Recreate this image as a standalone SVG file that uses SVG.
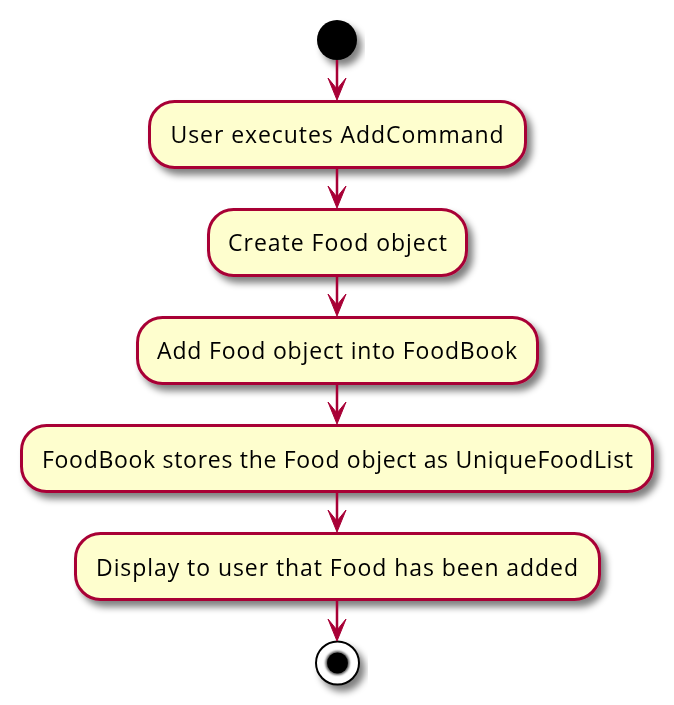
<svg xmlns="http://www.w3.org/2000/svg" width="674" height="705" viewBox="0 0 674 705">
<defs>
<filter id="sh" x="-20%" y="-20%" width="140%" height="160%">
<feGaussianBlur in="SourceAlpha" stdDeviation="3.5" result="b"/>
<feOffset in="b" dx="5" dy="6" result="o"/>
<feComponentTransfer in="o" result="s"><feFuncA type="linear" slope="0.5"/></feComponentTransfer>
<feMerge><feMergeNode in="s"/><feMergeNode in="SourceGraphic"/></feMerge>
</filter>
<filter id="ib" x="-50%" y="-50%" width="200%" height="200%">
<feGaussianBlur stdDeviation="1"/>
</filter>
</defs>
<style>
.box{fill:#FEFECE;stroke:#A80036;stroke-width:3}
.lbl{font-family:"Open Sans","Noto Sans",sans-serif;font-size:23px;fill:#000;text-anchor:middle}
.ln{stroke:#A80036;stroke-width:2.5;fill:none}
.ah{fill:#A80036;stroke:#A80036;stroke-width:1}
</style>
<g id="start" filter="url(#sh)"><circle cx="337" cy="40" r="20" fill="#000"/></g>
<g id="n1" filter="url(#sh)"><rect class="box" x="149.5" y="101.5" width="376" height="66" rx="25" ry="25"/><text class="lbl" x="337" y="143" textLength="333" lengthAdjust="spacing">User executes AddCommand</text></g>
<g id="n2" filter="url(#sh)"><rect class="box" x="208.5" y="209.5" width="258" height="66" rx="25" ry="25"/><text class="lbl" x="337.5" y="251" textLength="219" lengthAdjust="spacing">Create Food object</text></g>
<g id="n3" filter="url(#sh)"><rect class="box" x="137.5" y="317.5" width="400" height="66" rx="25" ry="25"/><text class="lbl" x="337" y="359" textLength="360" lengthAdjust="spacing">Add Food object into FoodBook</text></g>
<g id="n4" filter="url(#sh)"><rect class="box" x="21.5" y="425.5" width="631" height="66" rx="25" ry="25"/><text class="lbl" x="337.5" y="467.5" textLength="591" lengthAdjust="spacing">FoodBook stores the Food object as UniqueFoodList</text></g>
<g id="n5" filter="url(#sh)"><rect class="box" x="75.5" y="533.5" width="524" height="66" rx="25" ry="25"/><text class="lbl" x="337" y="575.5" textLength="482" lengthAdjust="spacing">Display to user that Food has been added</text></g>
<g id="end" filter="url(#sh)"><circle cx="337.5" cy="663" r="21.5" fill="#fff" stroke="#000" stroke-width="2"/><circle cx="337.5" cy="663" r="12" fill="#555" filter="url(#ib)"/><circle cx="337.5" cy="663" r="10.5" fill="#000"/></g>
<g id="connectors">
<line class="ln" x1="337" y1="60" x2="337" y2="92"/>
<polygon class="ah" points="328,78 337,100 346,78 337,89"/>
<line class="ln" x1="337" y1="169" x2="337" y2="200"/>
<polygon class="ah" points="328,186 337,208 346,186 337,197"/>
<line class="ln" x1="337" y1="277" x2="337" y2="308"/>
<polygon class="ah" points="328,294 337,316 346,294 337,305"/>
<line class="ln" x1="337" y1="385" x2="337" y2="416"/>
<polygon class="ah" points="328,402 337,424 346,402 337,413"/>
<line class="ln" x1="337" y1="493" x2="337" y2="524"/>
<polygon class="ah" points="328,510 337,532 346,510 337,521"/>
<line class="ln" x1="337" y1="601" x2="337" y2="633"/>
<polygon class="ah" points="328,619 337,641 346,619 337,630"/>
</g>
</svg>
